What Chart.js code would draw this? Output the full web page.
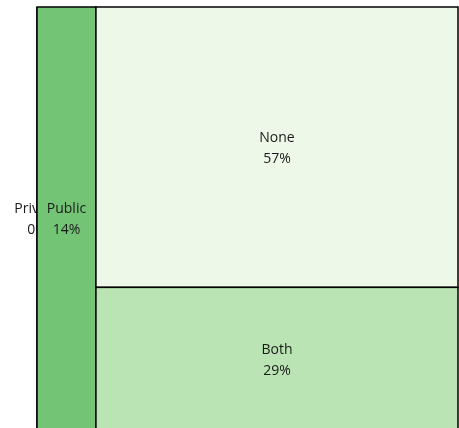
<!DOCTYPE html>
<html>
<head>
<meta charset="utf-8">
<script src="https://cdn.jsdelivr.net/npm/chart.js@4/dist/chart.umd.min.js"></script>
<style>
  html, body { margin: 0; padding: 0; overflow: hidden; background: #fff; }
  #wrap { width: 459px; height: 432px; }
</style>
</head>
<body>
<div id="wrap"><canvas id="myChart" width="459" height="432"></canvas></div>
<script>
  // Datos del treemap
  const labels = ['Private', 'Public', 'None', 'Both'];
  const values = [0, 14, 57, 29];
  const colores = ['#31a354', '#74c476', '#edf8e9', '#bae4b3'];
  // columnas del layout (slice and dice): indices de categorias
  const columnas = [[0], [1], [2, 3]];

  // calcula rectangulos en unidades de datos (0..1)
  function layoutTreemap() {
    const total = values.reduce((a, b) => a + b, 0);
    const rects = [];
    let x0 = 0;
    columnas.forEach(col => {
      const suma = col.reduce((a, i) => a + values[i], 0);
      const ancho = suma / total;
      let y0 = 1;
      col.forEach(i => {
        const alto = suma > 0 ? values[i] / suma : 1;
        rects[i] = { x0: x0, x1: x0 + ancho, y0: y0 - alto, y1: y0 };
        y0 -= alto;
      });
      x0 += ancho;
    });
    return rects;
  }

  const treemapPlugin = {
    id: 'treemap',
    afterDatasetsDraw(chart) {
      const ctx = chart.ctx;
      const sx = chart.scales.x, sy = chart.scales.y;
      const total = values.reduce((a, b) => a + b, 0);
      const rects = layoutTreemap();
      ctx.save();
      labels.forEach((lab, i) => {
        const r = rects[i];
        const left = sx.getPixelForValue(r.x0), right = sx.getPixelForValue(r.x1);
        const top = sy.getPixelForValue(r.y1), bottom = sy.getPixelForValue(r.y0);
        ctx.fillStyle = colores[i];
        ctx.fillRect(left, top, right - left, bottom - top);
        ctx.strokeStyle = '#000';
        ctx.lineWidth = 1.5;
        ctx.strokeRect(left, top, right - left, bottom - top);
        const cx = (left + right) / 2, cy = (top + bottom) / 2;
        ctx.fillStyle = '#1a1a1a';
        ctx.font = '14px "Open Sans"';
        ctx.textAlign = 'center';
        ctx.textBaseline = 'middle';
        ctx.fillText(lab, cx, cy - 9);
        ctx.fillText(Math.round(values[i] / total * 100) + '%', cx, cy + 12);
      });
      ctx.restore();
    }
  };

  const chart1 = new Chart(document.getElementById('myChart'), {
    type: 'scatter',
    data: {
      labels: labels,
      datasets: [{ label: 'treemap', data: [] }]
    },
    options: {
      responsive: false,
      animation: false,
      layout: { padding: { left: 37, top: 7, right: 1, bottom: 2 } },
      scales: {
        x: { type: 'linear', min: 0, max: 1, display: false },
        y: { type: 'linear', min: 0, max: 1, display: false }
      },
      plugins: { legend: { display: false }, tooltip: { enabled: false } }
    },
    plugins: [treemapPlugin]
  });
</script>
</body>
</html>
